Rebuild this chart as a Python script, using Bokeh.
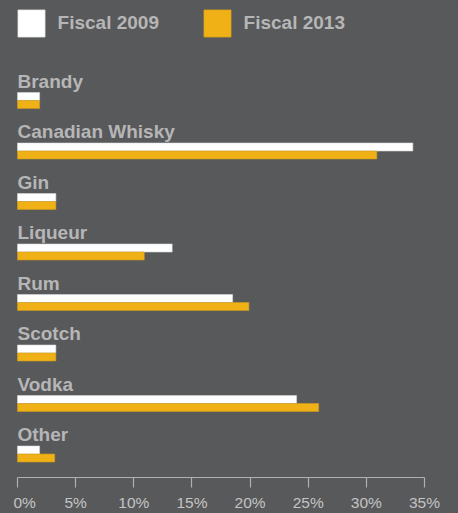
from bokeh.plotting import figure
from bokeh.models import Range1d, FixedTicker, Legend, LegendItem, ColumnDataSource
from bokeh.core.properties import value
from bokeh.embed import file_html
from bokeh.resources import INLINE

categories = ["Brandy", "Canadian Whisky", "Gin", "Liqueur", "Rum", "Scotch", "Vodka", "Other"]
fiscal_2009 = [1.9, 34.0, 3.3, 13.3, 18.5, 3.3, 24.0, 1.9]
fiscal_2013 = [1.9, 30.9, 3.3, 10.9, 19.9, 3.3, 25.9, 3.2]
series_names = ["Fiscal 2009", "Fiscal 2013"]
x_ticks = [0, 5, 10, 15, 20, 25, 30, 35]
x_tick_labels = ["0%", "5%", "10%", "15%", "20%", "25%", "30%", "35%"]

BG = "#58595b"
TEXT = "#b6b6b6"
GOLD = "#efb115"
FONT = "Liberation Sans"

BAR_H = 0.158
idx = list(range(len(categories)))

src = ColumnDataSource(dict(
    cat=categories,
    idx=idx,
    y09=[i - BAR_H / 2 for i in idx],
    y13=[i + BAR_H / 2 for i in idx],
    ylab=[i - 0.38 for i in idx],
    v09=fiscal_2009,
    v13=fiscal_2013,
))

PX_PER_UNIT = 407 / 35.0
p = figure(width=458, height=513, output_backend="svg", toolbar_location=None,
           x_range=Range1d(-17 / PX_PER_UNIT, 441 / PX_PER_UNIT),
           y_range=Range1d(7.465, -1.98),
           min_border_left=0, min_border_right=0, min_border_top=0, min_border_bottom=36,
           background_fill_color=BG, border_fill_color=None, outline_line_color=None)
p.styles = {"background-color": BG}

r09 = p.hbar(y="y09", right="v09", left=0, height=BAR_H, source=src,
             fill_color="white", line_color="#d8d8d8", line_width=0.6)
r13 = p.hbar(y="y13", right="v13", left=0, height=BAR_H, source=src,
             fill_color=GOLD, line_color="#cf9c1c", line_width=0.6)

p.text(x=0, y="ylab", text="cat", source=src, text_font=value(FONT),
       text_font_style="bold", text_font_size="19px", text_color=TEXT,
       text_align="left", text_baseline="alphabetic")

p.xgrid.grid_line_color = None
p.ygrid.grid_line_color = None
p.yaxis.visible = False

ax = p.xaxis[0]
ax.bounds = (0, 35)
ax.ticker = FixedTicker(ticks=x_ticks)
ax.major_label_overrides = {t: (("\u00a0\u00a0\u00a0" + l) if t == 0 else l)
                            for t, l in zip(x_ticks, x_tick_labels)}
ax.axis_line_color = "#b0b0b0"
ax.axis_line_width = 1.2
ax.major_tick_line_color = "#b0b0b0"
ax.major_tick_line_width = 1.2
ax.major_tick_out = 10
ax.major_tick_in = 0
ax.minor_tick_line_color = None
ax.major_label_text_color = "#c4c4c4"
ax.major_label_text_font = FONT
ax.major_label_text_font_size = "15.5px"
ax.major_label_standoff = 6

legend = Legend(items=[LegendItem(label=series_names[0], renderers=[r09]),
                       LegendItem(label=series_names[1], renderers=[r13])],
                orientation="horizontal", location=(13.6, 436.6),
                glyph_width=34, glyph_height=34, label_standoff=10,
                label_width=136, spacing=6, padding=0, margin=0,
                border_line_color=None, background_fill_alpha=0,
                label_text_font=FONT, label_text_font_style="bold",
                label_text_font_size="19px", label_text_color=TEXT)
p.add_layout(legend, "center")

open("out.html", "w").write(file_html(p, INLINE))
